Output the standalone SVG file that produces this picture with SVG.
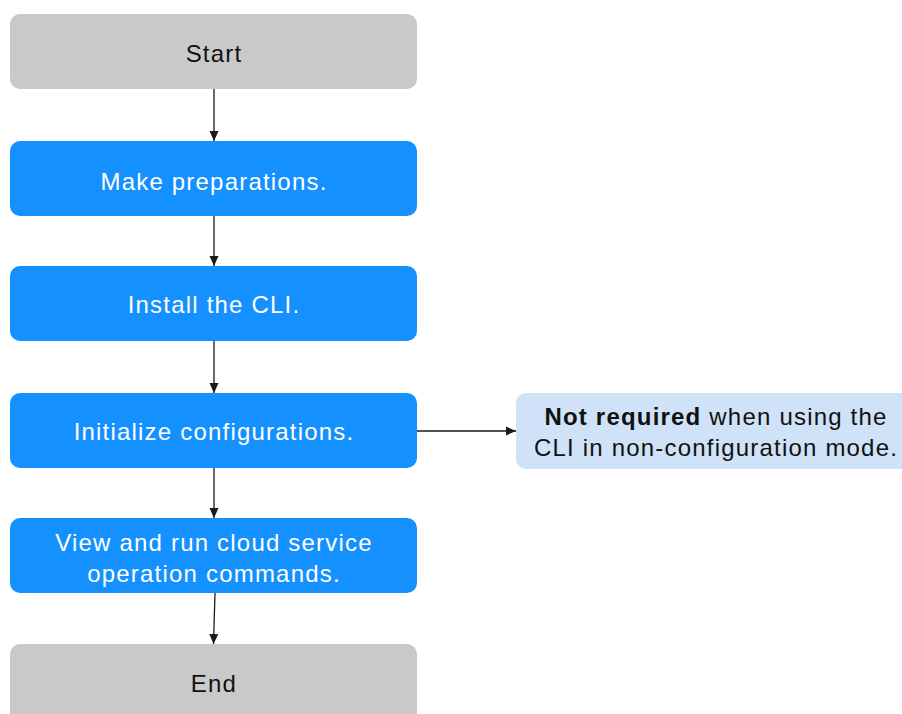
<svg xmlns="http://www.w3.org/2000/svg" width="902" height="714" viewBox="0 0 902 714">
<style>
.t{font-family:"Liberation Sans",Arial,sans-serif;font-size:24px;text-anchor:middle;letter-spacing:1.2px}
.w{fill:#ffffff}
.k{fill:#111111}
.gray{fill:#c9c9c9}
.blue{fill:#1590ff}
.note{fill:#cfe2f7}
.c{stroke:#1a1a1a;stroke-width:1.3;fill:none}
</style>
<defs>
<marker id="ah" markerWidth="10" markerHeight="12" refX="10" refY="5" orient="auto" markerUnits="userSpaceOnUse">
<path d="M0,0.5 L10,5 L0,9.5 Z" fill="#1a1a1a"/>
</marker>
</defs>
<rect width="902" height="714" fill="#ffffff"/>
<g id="connectors">
<line class="c" x1="214" y1="89" x2="214" y2="141" marker-end="url(#ah)"/>
<line class="c" x1="214" y1="216" x2="214" y2="266" marker-end="url(#ah)"/>
<line class="c" x1="214" y1="341" x2="214" y2="393" marker-end="url(#ah)"/>
<line class="c" x1="214" y1="468" x2="214" y2="518" marker-end="url(#ah)"/>
<line class="c" x1="215" y1="593" x2="213.5" y2="644" marker-end="url(#ah)"/>
<line class="c" x1="417" y1="431" x2="516" y2="431" marker-end="url(#ah)"/>
</g>
<g id="start">
<rect class="gray" x="10" y="14" width="407" height="75" rx="10"/>
<text class="t k" x="214" y="61.5">Start</text>
</g>
<g id="prepare">
<rect class="blue" x="10" y="141" width="407" height="75" rx="10"/>
<text class="t w" x="214" y="190">Make preparations.</text>
</g>
<g id="install">
<rect class="blue" x="10" y="266" width="407" height="75" rx="10"/>
<text class="t w" x="214" y="313">Install the CLI.</text>
</g>
<g id="init">
<rect class="blue" x="10" y="393" width="407" height="75" rx="10"/>
<text class="t w" x="214" y="440">Initialize configurations.</text>
</g>
<g id="run">
<rect class="blue" x="10" y="518" width="407" height="75" rx="10"/>
<text class="t w" x="214" y="550.5">View and run cloud service</text>
<text class="t w" x="214" y="581.5">operation commands.</text>
</g>
<g id="end">
<rect class="gray" x="10" y="644" width="407" height="80" rx="10"/>
<text class="t k" x="214" y="692">End</text>
</g>
<g id="note">
<rect class="note" x="516" y="393" width="400" height="76" rx="10"/>
<text class="t k" x="716" y="425"><tspan font-weight="bold">Not required</tspan> when using the</text>
<text class="t k" x="716" y="456">CLI in non-configuration mode.</text>
</g>
</svg>
